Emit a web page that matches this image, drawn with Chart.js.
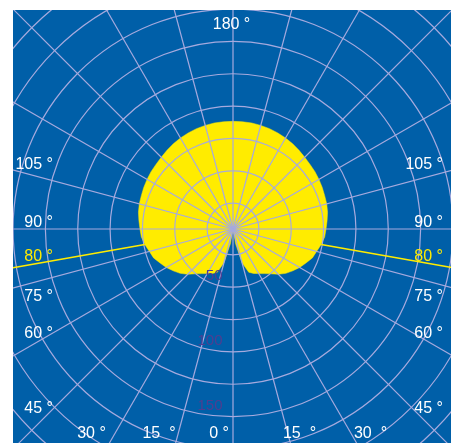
<!DOCTYPE html>
<html>
<head>
<meta charset="utf-8">
<script src="https://cdn.jsdelivr.net/npm/chart.js"></script>
<style>
  html, body { margin: 0; padding: 0; background: #ffffff; width: 451px; height: 443px; overflow: hidden; }
  #box { position: absolute; left: 13px; top: 10px; width: 438px; height: 433px; overflow: hidden; background: #005fa8; }
  #c { position: absolute; left: -97px; top: -98px; }
</style>
</head>
<body>
<div id="box"><canvas id="c" width="634" height="634"></canvas></div>
<script>
// Plane angles (degrees, 0 = straight down, 180 = straight up)
const planeAngles = [0,5,10,15,20,25,30,35,40,45,50,55,60,65,70,75,80,85,90,95,100,105,110,115,120,125,130,135,140,145,150,155,160,165,170,175,180];
// Luminous intensity, left half (C0 plane)
const intensityLeft = [5,5,16.6,32.1,40.6,42.9,44.8,47.1,50.2,54.5,58.3,61.4,64.5,67.2,70.3,71.9,74.2,76.1,76.9,78,79.2,80,80.4,81.1,81.7,82.3,82.7,83.4,84.4,85.4,86.2,86.9,87.5,87.9,88.2,88.2,88.2];
// Right half (C180 plane), same angles 0..180
const intensityRight = [5,5,16.6,32.1,40.6,42.9,44.8,47.1,50.2,54.5,58.3,61.4,64.5,67.2,70.3,71.9,74.2,76.1,76.9,78,79.2,80,80.4,81.1,81.7,82.3,82.7,83.4,84.4,85.4,86.2,86.9,87.5,87.9,88.2,88.2,88.2];
// Radial tick labels shown
const radialTickLabels = [50, 100, 150];
// Angle labels
const angleLabelTexts = ['180 °','105 °','90 °','80 °','75 °','60 °','45 °','30 °','15  °','0 °','15  °','30  °','105 °','90 °','80 °','75 °','60 °','45 °'];
// Cut-off angle
const cutoffAngle = 80;

// layout (offsets from centre, px) and styles for angle labels
const angleLabelLayout = [
  {dx:-1.5, dy:-205.7, align:'center'},
  {dx:-180, dy:-65.7, align:'right'},
  {dx:-180, dy:-8.3, align:'right'},
  {dx:-180, dy:26, align:'right', yellow:true},
  {dx:-180, dy:66, align:'right'},
  {dx:-180, dy:103.3, align:'right'},
  {dx:-180, dy:177.7, align:'right'},
  {dx:-141.5, dy:203, align:'center'},
  {dx:-74, dy:203, align:'center'},
  {dx:-14, dy:203, align:'center'},
  {dx:66.5, dy:203, align:'center'},
  {dx:137.5, dy:203, align:'center'},
  {dx:210, dy:-65.7, align:'right'},
  {dx:210, dy:-8.3, align:'right'},
  {dx:210, dy:26, align:'right', yellow:true},
  {dx:210, dy:66, align:'right'},
  {dx:210, dy:103.3, align:'right'},
  {dx:210, dy:177.7, align:'right'}
];

const YELLOW = '#ffec00';
const GRID = 'rgb(166,170,222)';

// Build the full circle: left side going up from 0 to 180, then right side back down
const labels = [];
const values = [];
for (let i = 0; i < planeAngles.length; i++) { labels.push(planeAngles[i] + '°'); values.push(intensityLeft[i]); }
for (let i = planeAngles.length - 2; i >= 1; i--) { labels.push(planeAngles[i] + '°'); values.push(intensityRight[i]); }
const n = labels.length;
const cutLeft = planeAngles.indexOf(cutoffAngle);
const cutRight = n - cutLeft;

const overlay = {
  id: 'overlay',
  afterDraw(chart) {
    const s = chart.scales.r;
    const ctx = chart.ctx;
    const cx = s.xCenter, cy = s.yCenter;
    ctx.save();
    // cut-off lines
    ctx.strokeStyle = YELLOW;
    ctx.lineWidth = 1.4;
    [cutLeft, cutRight].forEach(idx => {
      const a = s.getPointPositionForValue(idx, values[idx]);
      const b = s.getPointPositionForValue(idx, s.max);
      ctx.beginPath(); ctx.moveTo(a.x, a.y); ctx.lineTo(b.x, b.y); ctx.stroke();
    });
    // radial tick labels
    ctx.font = '15px "Liberation Sans", Arial, sans-serif';
    ctx.fillStyle = 'rgb(78,62,145)';
    ctx.textAlign = 'right';
    ctx.textBaseline = 'middle';
    radialTickLabels.forEach(v => {
      const r = s.getDistanceFromCenterForValue(v);
      ctx.fillText(String(v), cx - 10.5, cy + r - 11);
    });
    // angle labels
    ctx.font = '16px "Liberation Sans", Arial, sans-serif';
    ctx.textBaseline = 'alphabetic';
    angleLabelTexts.forEach((t, i) => {
      const L = angleLabelLayout[i];
      ctx.fillStyle = L.yellow ? YELLOW : '#ffffff';
      ctx.textAlign = L.align;
      ctx.fillText(t, cx + L.dx, cy + L.dy + 5.8);
    });
    ctx.restore();
  }
};

new Chart(document.getElementById('c'), {
  type: 'radar',
  data: {
    labels: labels,
    datasets: [{
      data: values,
      fill: true,
      backgroundColor: YELLOW,
      borderColor: YELLOW,
      borderWidth: 0.5,
      pointRadius: 0,
      tension: 0
    }]
  },
  options: {
    responsive: false,
    animation: false,
    devicePixelRatio: 1,
    layout: { padding: 0 },
    plugins: { legend: { display: false }, tooltip: { enabled: false } },
    scales: {
      r: {
        min: 5,
        max: 250,
        startAngle: 180,
        ticks: { display: false, stepSize: 25, maxTicksLimit: 20 },
        pointLabels: { display: false },
        grid: { z: 1, circular: true, color: GRID, lineWidth: 1.2 },
        angleLines: {
          display: true,
          color: GRID,
          lineWidth: (c) => (c.index % 3 === 0 ? 1.2 : 0)
        }
      }
    }
  },
  plugins: [overlay]
});
</script>
</body>
</html>
